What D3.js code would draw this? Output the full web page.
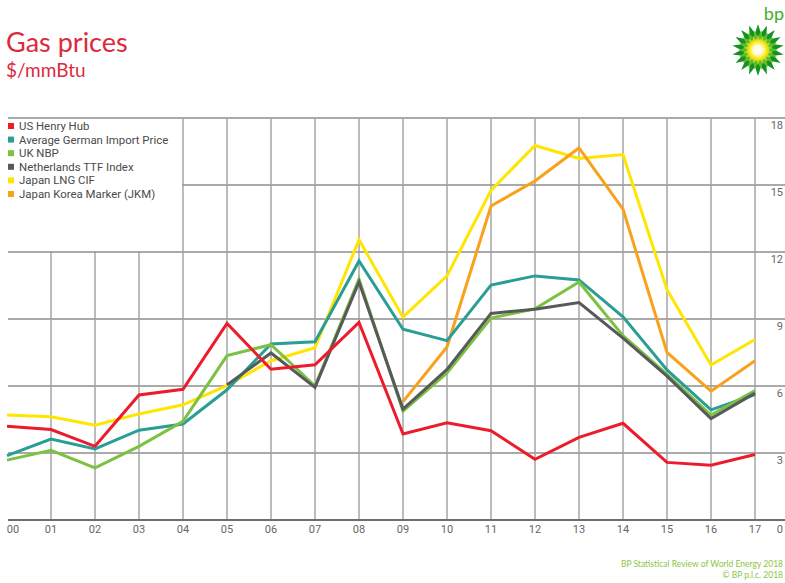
<!DOCTYPE html>
<html>
<head>
<meta charset="utf-8">
<script src="https://cdn.jsdelivr.net/npm/d3@7"></script>
<style>
  body { margin: 0; background: #fff; }
  svg { display: block; }
</style>
</head>
<body>
<div id="chart"></div>
<script>
// year labels (2000 - 2017)
const years = ["00", "01", "02", "03", "04", "05", "06", "07", "08", "09", "10", "11", "12", "13", "14", "15", "16", "17"];
const yTicks = [3, 6, 9, 12, 15, 18];

// $/mmBtu
const henryHub = [4.2, 4.05, 3.3, 5.6, 5.85, 8.8, 6.75, 6.95, 8.85, 3.85, 4.35, 4.0, 2.72, 3.7, 4.33, 2.58, 2.45, 2.93];
const germanImport = [2.88, 3.62, 3.18, 4.02, 4.3, 5.83, 7.88, 7.98, 11.6, 8.54, 8.03, 10.52, 10.93, 10.75, 9.1, 6.72, 4.93, 5.62];
const ukNbp = [2.68, 3.12, 2.33, 3.3, 4.42, 7.36, 7.85, 6.0, 10.79, 4.87, 6.58, 9.04, 9.46, 10.66, 8.25, 6.52, 4.7, 5.8];
const ttf = [null, null, null, null, null, 6.05, 7.48, 5.94, 10.66, 4.97, 6.74, 9.25, 9.44, 9.74, 8.14, 6.44, 4.54, 5.68];
const japanLng = [4.7, 4.62, 4.24, 4.75, 5.16, 6.02, 7.13, 7.71, 12.55, 9.08, 10.93, 14.76, 16.77, 16.19, 16.36, 10.31, 6.94, 8.08];
const jkm = [null, null, null, null, null, null, null, null, null, 5.3, 7.75, 14.06, 15.18, 16.66, 13.92, 7.5, 5.77, 7.13];

const series = [
    { name: "US Henry Hub", values: henryHub, color: "#ec1c2c" },
    { name: "Average German Import Price", values: germanImport, color: "#2a9d95" },
    { name: "UK NBP", values: ukNbp, color: "#7cc242" },
    { name: "Netherlands TTF Index", values: ttf, color: "#58595b" },
    { name: "Japan LNG CIF", values: japanLng, color: "#ffe500" },
    { name: "Japan Korea Marker (JKM)", values: jkm, color: "#f9a11b" }
];
const drawOrder = [4, 5, 1, 2, 3, 0];

const width = 785, height = 583;
const plot = { left: 7, right: 785, top: 118, bottom: 520 };
const red = "#dc2a3e";
const bpGreen = "#3fae2a";

const svg = d3.select("#chart").append("svg")
    .attr("width", width)
    .attr("height", height);

const x = d3.scaleLinear()
    .domain([0, years.length - 1])
    .range([7, 755]);

const y = d3.scaleLinear()
    .domain([0, 18])
    .range([plot.bottom, plot.top]);

// title
svg.append("text")
    .attr("x", 6).attr("y", 52)
    .attr("font-family", "Lato, 'Open Sans', sans-serif")
    .attr("font-size", 27)
    .attr("fill", red)
    .text("Gas prices");

svg.append("text")
    .attr("x", 6).attr("y", 77)
    .attr("font-family", "Lato, 'Open Sans', sans-serif")
    .attr("font-size", 19)
    .attr("fill", red)
    .text("$/mmBtu");

// grid
const grid = svg.append("g").attr("class", "grid");

grid.selectAll("line.h")
    .data(yTicks)
    .enter().append("line")
    .attr("class", "h")
    .attr("x1", 8).attr("x2", plot.right)
    .attr("y1", d => y(d)).attr("y2", d => y(d))
    .attr("stroke", "#8e8e8e")
    .attr("stroke-width", 1.4);

grid.selectAll("line.v")
    .data(years.slice(1))
    .enter().append("line")
    .attr("class", "v")
    .attr("x1", (d, i) => x(i + 1)).attr("x2", (d, i) => x(i + 1))
    .attr("y1", y(18)).attr("y2", y(0))
    .attr("stroke", "#a0a0a0")
    .attr("stroke-width", 1.4);

// blank box behind legend
svg.append("rect")
    .attr("x", 8).attr("y", y(18) + 1)
    .attr("width", x(4) - 9).attr("height", y(12) - y(18) - 2)
    .attr("fill", "#fff");

// x axis line
svg.append("line")
    .attr("x1", 8).attr("x2", plot.right)
    .attr("y1", y(0)).attr("y2", y(0))
    .attr("stroke", "#6e6e6e")
    .attr("stroke-width", 2);

// right side value labels
svg.append("g")
    .selectAll("text")
    .data([0].concat(yTicks))
    .enter().append("text")
    .attr("x", 783)
    .attr("y", d => d === 0 ? y(0) + 13 : y(d) + 11)
    .attr("text-anchor", "end")
    .attr("font-family", "Roboto, 'Liberation Sans', sans-serif")
    .attr("font-size", 11)
    .attr("fill", "#666")
    .text(d => d);

// year labels
svg.append("g")
    .selectAll("text")
    .data(years)
    .enter().append("text")
    .attr("x", (d, i) => i === 0 ? x(i) + 6 : x(i))
    .attr("y", y(0) + 13)
    .attr("text-anchor", "middle")
    .attr("font-family", "Roboto, 'Liberation Sans', sans-serif")
    .attr("font-size", 11)
    .attr("fill", "#666")
    .text(d => d);

// series lines
const line = d3.line()
    .defined(d => d !== null)
    .x((d, i) => x(i))
    .y(d => y(d));

svg.append("g")
    .selectAll("path")
    .data(drawOrder.map(i => series[i]))
    .enter().append("path")
    .attr("fill", "none")
    .attr("stroke", d => d.color)
    .attr("stroke-width", 3)
    .attr("stroke-linejoin", "miter")
    .attr("d", d => line(d.values));

// legend
const legend = svg.append("g")
    .attr("transform", "translate(8, 127)");

const legendItem = legend.selectAll("g")
    .data(series)
    .enter().append("g")
    .attr("transform", (d, i) => `translate(0, ${i * 13.6})`);

legendItem.append("rect")
    .attr("x", 0).attr("y", -4)
    .attr("width", 6).attr("height", 6)
    .attr("fill", d => d.color);

legendItem.append("text")
    .attr("x", 11).attr("y", 3)
    .attr("font-family", "Roboto, 'Liberation Sans', sans-serif")
    .attr("font-size", 11.4)
    .attr("fill", "#4a4a4a")
    .text(d => d.name);

// bp logo
svg.append("text")
    .attr("x", 784).attr("y", 20)
    .attr("text-anchor", "end")
    .attr("font-family", "Lato, sans-serif")
    .attr("font-size", 18)
    .attr("fill", bpGreen)
    .text("bp");

const logo = svg.append("g").attr("transform", "translate(758, 50)");

const star = (points, rOut, rIn, rot) => {
    const pts = [];
    for (let i = 0; i < points * 2; i++) {
        const a = rot + i * Math.PI / points;
        const r = i % 2 === 0 ? rOut : rIn;
        pts.push([r * Math.sin(a), -r * Math.cos(a)]);
    }
    return "M" + pts.join("L") + "Z";
};

const defs = svg.append("defs");
const grad = defs.append("radialGradient").attr("id", "sun");
grad.append("stop").attr("offset", "0%").attr("stop-color", "#fff");
grad.append("stop").attr("offset", "45%").attr("stop-color", "#fffbd0");
grad.append("stop").attr("offset", "80%").attr("stop-color", "#ffe600");
grad.append("stop").attr("offset", "100%").attr("stop-color", "#c8dc1e");

logo.append("path").attr("d", star(18, 26, 17, 0)).attr("fill", "#13921f");
logo.append("path").attr("d", star(18, 20, 13, Math.PI / 18)).attr("fill", "#5fbd2a");
logo.append("path").attr("d", star(18, 15, 10, 0)).attr("fill", "#aed531");
logo.append("circle").attr("r", 11).attr("fill", "url(#sun)");

// footer
const footer = svg.append("g")
    .attr("font-family", "Lato, sans-serif")
    .attr("font-size", 8.5)
    .attr("fill", "#8cc63f")
    .attr("text-anchor", "end");

footer.append("text").attr("x", 783).attr("y", 567).text("BP Statistical Review of World Energy 2018");
footer.append("text").attr("x", 783).attr("y", 578).text("© BP p.l.c. 2018");
</script>
</body>
</html>
